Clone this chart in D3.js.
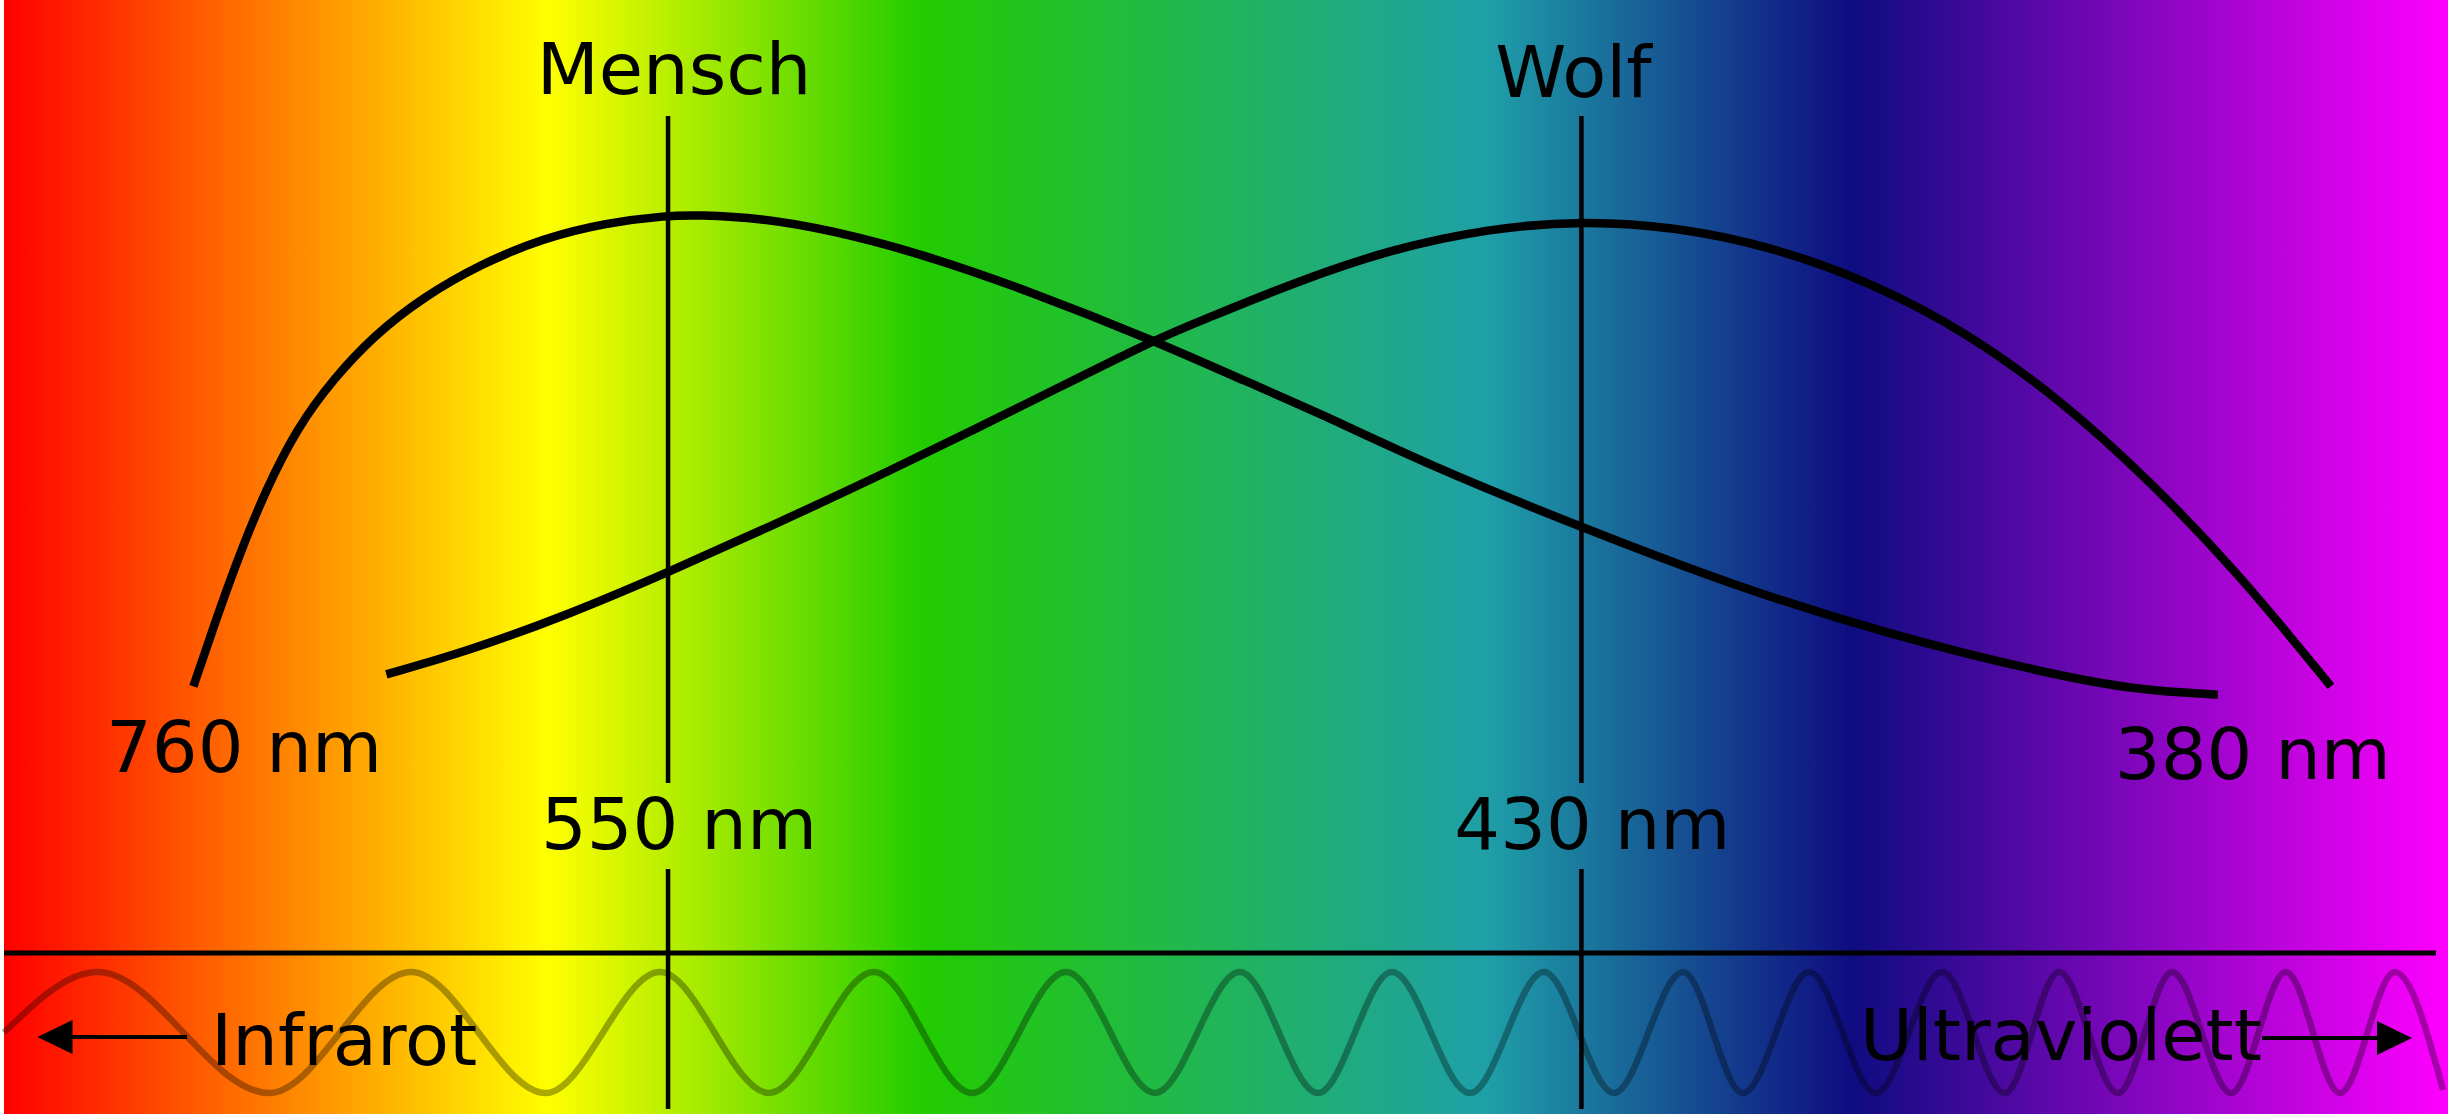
<!DOCTYPE html>
<html>
<head>
<meta charset="utf-8">
<script src="https://cdn.jsdelivr.net/npm/d3@7"></script>
<style>
  html, body { margin: 0; padding: 0; background: #fff; }
  svg { display: block; }
  text { font-family: 'DejaVu Sans', sans-serif; fill: #000; }
</style>
</head>
<body>
<svg id="chart" width="2448" height="1114"></svg>
<script>
/* eslint-disable no-undef */
// Farbverlauf des Spektrums (Position 0-100, links langwellig)
const stopPositions = [0, 22.3, 37.6, 60.6, 75.6, 100]
const stopColors = ['#ff0000', '#ffff00', '#22cc00', '#1fa0a8', '#0e0c80', '#ff00ff']

// Empfindlichkeitskurven (Position im Spektrum, relative Empfindlichkeit)
const humanPos = [7.90, 8.71, 9.71, 10.85, 12.14, 13.58, 15.30, 17.30, 19.60, 22.17, 24.75, 27.28, 28.48, 31.06, 33.93, 37.65, 41.95, 47.11, 51.06, 53.71, 58.40, 64.65, 70.90, 77.16, 83.41, 87.16, 90.60]
const humanSens = [0.028, 0.149, 0.291, 0.433, 0.561, 0.660, 0.753, 0.831, 0.898, 0.952, 0.984, 0.999, 1.0, 0.994, 0.969, 0.920, 0.845, 0.742, 0.653, 0.596, 0.483, 0.355, 0.234, 0.135, 0.057, 0.021, 0.011]
const wolfPos = [15.78, 19.02, 23.32, 27.28, 31.34, 36.22, 41.95, 47.11, 49.02, 52.77, 56.83, 60.90, 64.65, 68.40, 72.47, 76.53, 80.28, 84.03, 87.79, 91.54, 95.22]
const wolfSens = [0.053, 0.099, 0.178, 0.263, 0.355, 0.469, 0.611, 0.742, 0.781, 0.859, 0.930, 0.973, 0.988, 0.976, 0.934, 0.859, 0.760, 0.625, 0.454, 0.256, 0.028]

// Maxima
const markerNames = ['Mensch', 'Wolf']
const markerPos = [27.29, 64.6]
const markerLabels = ['550 nm', '430 nm']

// Kurvenenden
const endLabels = ['760 nm', '380 nm']
const endLabelPos = [9.97, 92.03]

// Lichtwelle: Wellenberge (+1) und -taeler (-1)
const wavePos = [0.16, 3.99, 10.99, 16.79, 22.30, 26.96, 31.41, 35.70, 39.71, 43.55, 47.18, 50.65, 53.84, 56.86, 60.05, 63.07, 65.93, 68.75, 71.20, 73.90, 76.63, 79.33, 81.90, 84.11, 86.52, 88.73, 91.14, 93.38, 95.59, 97.83, 99.80]
const waveVal = [0, 1, -1, 1, -1, 1, -1, 1, -1, 1, -1, 1, -1, 1, -1, 1, -1, 1, -1, 1, -1, 1, -1, 1, -1, 1, -1, 1, -1, 1, -0.95]

const bandNames = ['Infrarot', 'Ultraviolett']
const bandPos = [8.62, 75.98]

const svg = d3.select('#chart')
const width = +svg.attr('width')
const height = +svg.attr('height')

const x = d3.scaleLinear().domain([0, 100]).range([0, width])
const y = d3.scaleLinear().domain([0, 1]).range([700, 215])
const yWave = d3.scaleLinear().domain([-1, 1]).range([1093, 972])

// Hintergrund
const grad = svg.append('defs').append('linearGradient')
  .attr('id', 'spectrum')
  .attr('x1', 0).attr('x2', 1).attr('y1', 0).attr('y2', 0)
grad.selectAll('stop')
  .data(stopPositions)
  .enter().append('stop')
  .attr('offset', d => d + '%')
  .attr('stop-color', (d, i) => stopColors[i])

svg.append('rect')
  .attr('x', 4).attr('y', 0)
  .attr('width', width - 4).attr('height', height)
  .attr('fill', 'url(#spectrum)')

// Welle
const waveData = wavePos.map((p, i) => [p, waveVal[i]])
svg.append('path')
  .attr('d', d3.line().x(d => x(d[0])).y(d => yWave(d[1])).curve(d3.curveMonotoneX)(waveData))
  .attr('fill', 'none')
  .attr('stroke', '#000')
  .attr('stroke-opacity', 0.33)
  .attr('stroke-width', 6.5)

// Grundlinie
svg.append('line')
  .attr('x1', 4).attr('x2', 2436)
  .attr('y1', 953).attr('y2', 953)
  .attr('stroke', '#000').attr('stroke-width', 5)

// Markierungslinien mit Luecke fuer die Beschriftung
markerPos.forEach(p => {
  [[116, 783], [869, 1109]].forEach(seg => {
    svg.append('line')
      .attr('x1', x(p)).attr('x2', x(p))
      .attr('y1', seg[0]).attr('y2', seg[1])
      .attr('stroke', '#000').attr('stroke-width', 4.5)
  })
})

// Kurven (geglaettet)
const line = d3.line()
  .x(d => x(d[0]))
  .y(d => y(d[1]))
  .curve(d3.curveBasis)

const curves = [
  humanPos.map((p, i) => [p, humanSens[i]]),
  wolfPos.map((p, i) => [p, wolfSens[i]])
]
svg.selectAll('.curve')
  .data(curves)
  .enter().append('path')
  .attr('class', 'curve')
  .attr('d', line)
  .attr('fill', 'none')
  .attr('stroke', '#000')
  .attr('stroke-width', 8.5)

// Texte
const fontSize = 72
svg.selectAll('.name')
  .data(markerNames)
  .enter().append('text')
  .attr('class', 'name')
  .attr('x', (d, i) => x(markerPos[i]) + (i === 0 ? 6 : -8))
  .attr('y', (d, i) => i === 0 ? 94 : 97)
  .attr('text-anchor', 'middle')
  .style('font-size', fontSize + 'px')
  .text(d => d)

svg.selectAll('.nm')
  .data(markerLabels)
  .enter().append('text')
  .attr('class', 'nm')
  .attr('x', (d, i) => x(markerPos[i]) + 11)
  .attr('y', 849)
  .attr('text-anchor', 'middle')
  .style('font-size', fontSize + 'px')
  .text(d => d)

svg.selectAll('.end')
  .data(endLabels)
  .enter().append('text')
  .attr('class', 'end')
  .attr('x', (d, i) => x(endLabelPos[i]))
  .attr('y', (d, i) => i === 0 ? 772 : 779)
  .attr('text-anchor', 'middle')
  .style('font-size', fontSize + 'px')
  .text(d => d)

svg.selectAll('.band')
  .data(bandNames)
  .enter().append('text')
  .attr('class', 'band')
  .attr('x', (d, i) => x(bandPos[i]))
  .attr('y', (d, i) => i === 0 ? 1065 : 1060)
  .style('font-size', fontSize + 'px')
  .text(d => d)

// Pfeile
function arrow (x0, x1, yy) {
  const dir = Math.sign(x1 - x0)
  svg.append('line')
    .attr('x1', x0).attr('x2', x1 - dir * 30)
    .attr('y1', yy).attr('y2', yy)
    .attr('stroke', '#000').attr('stroke-width', 4)
  svg.append('path')
    .attr('d', `M${x1},${yy} L${x1 - dir * 35},${yy - 17} L${x1 - dir * 35},${yy + 17} Z`)
    .attr('fill', '#000')
}
arrow(187, 37.5, 1037)
arrow(2262, 2412, 1038)
</script>
</body>
</html>
